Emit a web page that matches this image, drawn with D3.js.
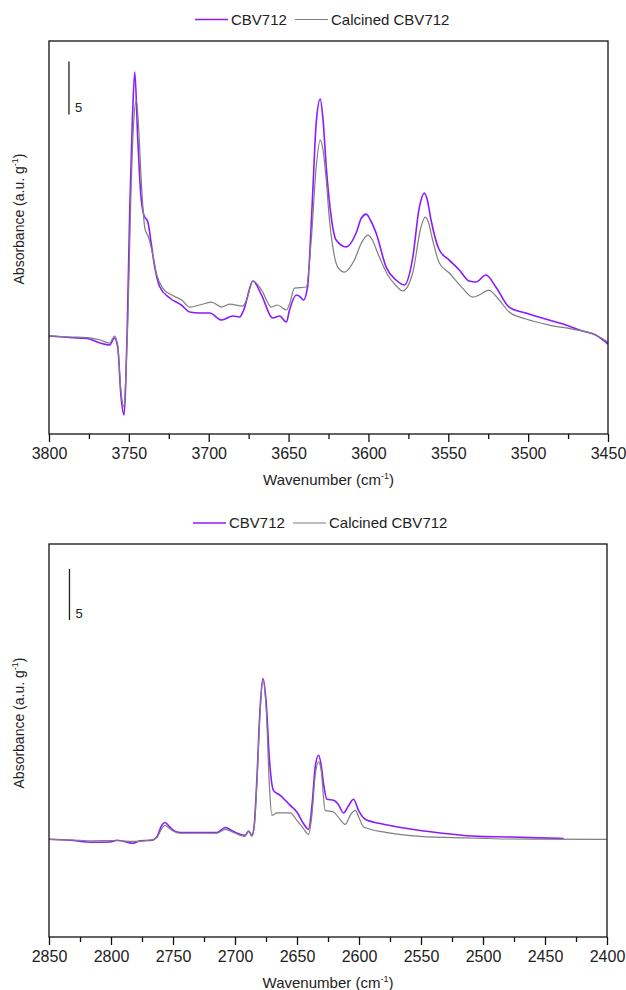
<!DOCTYPE html>
<html>
<head>
<meta charset="utf-8">
<script src="https://cdn.jsdelivr.net/npm/d3@7"></script>
<style>
  body { margin: 0; background: #fff; }
  text { font-family: "Liberation Sans", Arial, sans-serif; fill: #222; }
</style>
</head>
<body>
<div id="chart"></div>
<script>
// series names and colours
const seriesNames = ["CBV712", "Calcined CBV712"];
const seriesColors = ["#8c1aff", "#7f7f7f"];

// tick values (wavenumber, cm-1)
const topTicks = [3800, 3750, 3700, 3650, 3600, 3550, 3500, 3450];
const topMinorTicks = [3775, 3725, 3675, 3625, 3575, 3525, 3475];
const bottomTicks = [2850, 2800, 2750, 2700, 2650, 2600, 2550, 2500, 2450, 2400];
const bottomMinorTicks = [2825, 2775, 2725, 2675, 2625, 2575, 2525, 2475, 2425];

// OH region: [wavenumber, absorbance]
const topCBV = [
  [3800, 0.09], [3787, -0.05], [3776, -0.14], [3768, -0.57], [3762, -0.75],
  [3759, -0.09], [3757, -0.94], [3755, -5.47], [3753, -7.36], [3752, -4.53],
  [3751, 0.94], [3749.4, 12.26], [3747.8, 20.47], [3746.3, 25.0], [3744.4, 18.58],
  [3742.5, 13.4], [3740.6, 11.5], [3738.1, 10.85], [3736.3, 9.15], [3733.8, 6.6],
  [3730.6, 4.72], [3724.4, 3.68], [3717.1, 3.02], [3711.9, 2.36], [3705.6, 2.26],
  [3699.4, 2.26], [3691.9, 1.6], [3685, 1.98], [3680.6, 1.89], [3678.1, 2.55],
  [3672.3, 5.28], [3666.9, 3.96], [3660, 1.79], [3655.6, 1.98], [3651.4, 1.42],
  [3649.4, 2.55], [3645.2, 3.96], [3642.5, 3.77], [3640.6, 3.49], [3638.1, 4.72],
  [3636.3, 9.15], [3634.8, 13.87], [3632.7, 20.19], [3630.2, 22.45], [3628.4, 20.47],
  [3626.4, 16.04], [3623.3, 11.32], [3620.2, 9.15], [3613.9, 8.49], [3607.7, 9.81],
  [3604.4, 11.23], [3601.4, 11.6], [3598.8, 11.04], [3595.2, 9.81], [3588.9, 6.6],
  [3582.7, 5.38], [3577.5, 4.91], [3572.5, 7.26], [3568.1, 12.26], [3565, 13.58],
  [3563.1, 12.92], [3560.8, 11.04], [3555.6, 8.21], [3549.4, 7.26], [3543.1, 6.32],
  [3536.9, 5.28], [3532.7, 5.19], [3526.4, 5.85], [3520.2, 4.72], [3511.9, 2.83],
  [3501.4, 2.26], [3486.9, 1.6], [3476.4, 1.13], [3466.1, 0.57], [3457.7, 0.19],
  [3450, -0.66]
];
const topCalcined = [
  [3800, 0.1], [3787, 0], [3776, -0.05], [3768, -0.28], [3762, -0.57],
  [3759, 0.09], [3757, -0.75], [3755, -5.0], [3753, -6.6], [3752, -4.06],
  [3750.6, 1.6], [3748.8, 12.92], [3746.9, 20.47], [3745.3, 22.36], [3743.8, 19.53],
  [3741.9, 13.87], [3740, 10.28], [3737.5, 9.34], [3735, 7.74], [3732.5, 5.85],
  [3728.8, 4.62], [3723.1, 3.96], [3716.9, 3.49], [3711.9, 2.83], [3705.6, 3.02],
  [3698.3, 3.3], [3691.9, 2.83], [3686.9, 3.11], [3678.8, 2.92], [3676.3, 3.49],
  [3672.3, 5.28], [3666.9, 4.43], [3660.8, 2.83], [3656.9, 3.02], [3651.4, 2.55],
  [3649.4, 3.11], [3646.3, 4.62], [3638.9, 4.72], [3635.8, 9.15], [3632.7, 16.04],
  [3630.2, 18.58], [3628.4, 17.64], [3626.4, 14.81], [3624.4, 11.04], [3622.3, 8.49],
  [3619.2, 6.6], [3615, 6.13], [3608.8, 7.26], [3604.4, 8.87], [3600.4, 9.62],
  [3597.5, 9.15], [3594.2, 7.92], [3587.9, 5.85], [3583.1, 4.91], [3578.6, 4.34],
  [3572.3, 6.04], [3567.1, 10.38], [3564.4, 11.32], [3562.5, 10.85], [3559.8, 9.15],
  [3555.6, 6.98], [3549.4, 6.04], [3541.1, 4.62], [3534.8, 3.77], [3530.6, 3.96],
  [3524.8, 4.43], [3518.1, 3.49], [3511.9, 2.36], [3501.4, 1.7], [3486.9, 1.13],
  [3472.3, 0.75], [3457.7, 0.19], [3450, -0.47]
];

// OD region: [wavenumber, absorbance]
const bottomCBV = [
  [2850, 0], [2833, -0.1], [2814.5, -0.29], [2800.8, -0.26], [2795.1, -0.1],
  [2782.2, -0.39], [2776.6, -0.15], [2767.1, -0.1], [2762.8, 0.29], [2759, 1.37],
  [2756.4, 1.64], [2753.1, 1.27], [2749.7, 0.88], [2744.3, 0.66], [2714.6, 0.66],
  [2707.9, 1.15], [2701.5, 0.78], [2695.8, 0.49], [2691.8, 0.39], [2689.1, 0.81],
  [2686.4, 0.39], [2684.5, 1.37], [2682.4, 5.78], [2679.7, 12.97], [2677.5, 15.75],
  [2674.8, 13.33], [2672.2, 7.75], [2669, 4.8], [2663.6, 4.31], [2655.5, 3.33],
  [2650.1, 2.68], [2644.8, 1.54], [2640.7, 0.98], [2638, 3.17], [2635.3, 7.09],
  [2632.6, 8.24], [2630.5, 7.25], [2628.6, 5.46], [2625.9, 3.92], [2620.5, 3.82],
  [2616.8, 3.43], [2612.5, 2.58], [2608.7, 3.24], [2604.4, 3.92], [2600.4, 2.84],
  [2595, 1.96], [2582.9, 1.54], [2561.3, 1.05], [2534.4, 0.62], [2504.8, 0.29],
  [2477.9, 0.23], [2434.9, 0.07]
];
const bottomCalcined = [
  [2850, 0], [2833, -0.05], [2814.5, -0.15], [2800.8, -0.12], [2782.2, -0.2],
  [2767.1, -0.05], [2762.8, 0.2], [2759, 1.08], [2756.4, 1.37], [2753.1, 1.08],
  [2749.7, 0.78], [2744.3, 0.59], [2714.6, 0.59], [2707.9, 0.98], [2701.5, 0.69],
  [2695.8, 0.39], [2691.8, 0.29], [2689.1, 0.78], [2686.4, 0.29], [2684.5, 1.27],
  [2682.4, 5.29], [2679.7, 12.65], [2677.5, 15.59], [2674.8, 12.65], [2672.2, 5.13],
  [2670.3, 2.35], [2666.2, 2.58], [2655.5, 2.58], [2650.1, 1.86], [2644.8, 1.05],
  [2640.7, 0.49], [2638, 2.35], [2635.3, 6.27], [2632.6, 7.58], [2630.5, 6.76],
  [2627.3, 2.84], [2620.5, 2.68], [2616.8, 2.19], [2611.1, 1.47], [2607.1, 2.35],
  [2603, 2.84], [2599.8, 2.06], [2596.3, 1.21], [2577.4, 0.66], [2550.6, 0.29],
  [2512.9, 0.13], [2480.6, 0.03], [2400.4, 0]
];

const svg = d3
  .select("#chart")
  .append("svg")
  .attr("width", 626)
  .attr("height", 990);

function drawPanel(p) {
  const x = d3.scaleLinear().domain(p.xDomain).range([p.left, p.right]);
  const y = d3.scaleLinear().domain(p.yDomain).range([p.bottom, p.top]);
  const g = svg.append("g");

  // legend
  const leg = g.append("g").attr("transform", `translate(${p.legendX}, ${p.legendY})`);
  [0, 1].forEach(function (i) {
    const ox = i * 100;
    leg.append("line")
      .attr("x1", ox).attr("x2", ox + 33)
      .attr("y1", 0).attr("y2", 0)
      .attr("stroke", seriesColors[i])
      .attr("stroke-width", i == 0 ? 1.6 : 1.2);
    leg.append("text")
      .attr("x", ox + 36)
      .attr("y", 5.4)
      .attr("font-size", "15px")
      .text(seriesNames[i]);
  });

  // curves (calcined drawn last, on top)
  const line = d3.line()
    .x(d => x(d[0]))
    .y(d => y(d[1]))
    .curve(d3.curveMonotoneX);
  p.series.forEach(function (s, i) {
    g.append("path")
      .datum(s)
      .attr("d", line)
      .attr("fill", "none")
      .attr("stroke", seriesColors[i])
      .attr("stroke-width", i == 0 ? 1.6 : 1.2);
  });

  // frame
  g.append("rect")
    .attr("x", p.left).attr("y", p.top)
    .attr("width", p.right - p.left)
    .attr("height", p.bottom - p.top)
    .attr("fill", "none")
    .attr("stroke", "#111")
    .attr("stroke-width", 1.3);

  // x axis, major + minor ticks
  const ax = g.append("g")
    .attr("transform", `translate(0, ${p.bottom})`)
    .call(d3.axisBottom(x).tickValues(p.ticks).tickSize(8).tickPadding(5.5).tickFormat(d3.format("d")));
  ax.select(".domain").remove();
  ax.selectAll("line").attr("stroke", "#111").attr("stroke-width", 1.3);
  ax.selectAll("text")
    .attr("font-size", "16px")
    .attr("font-family", '"Liberation Sans", Arial, sans-serif')
    .attr("fill", "#222");

  const axm = g.append("g")
    .attr("transform", `translate(0, ${p.bottom})`)
    .call(d3.axisBottom(x).tickValues(p.minorTicks).tickSize(5).tickFormat(""));
  axm.select(".domain").remove();
  axm.selectAll("line").attr("stroke", "#111").attr("stroke-width", 1.3);

  // axis titles
  const xt = g.append("text")
    .attr("x", (p.left + p.right) / 2)
    .attr("y", p.xTitleY)
    .attr("text-anchor", "middle")
    .attr("font-size", "15px");
  xt.append("tspan").text("Wavenumber (cm");
  xt.append("tspan").attr("font-size", "9px").attr("dy", "-6").text("-1");
  xt.append("tspan").attr("dy", "6").text(")");

  const yt = g.append("text")
    .attr("transform", `translate(24, ${p.yTitleY}) rotate(-90)`)
    .attr("text-anchor", "middle")
    .attr("font-size", "14px");
  yt.append("tspan").text("Absorbance (a.u. g");
  yt.append("tspan").attr("font-size", "9px").attr("dy", "-6").text("-1");
  yt.append("tspan").attr("dy", "6").text(")");

  // scale bar of 5 units
  g.append("line")
    .attr("x1", x(p.barX)).attr("x2", x(p.barX))
    .attr("y1", y(p.barFrom)).attr("y2", y(p.barFrom + 5))
    .attr("stroke", "#222")
    .attr("stroke-width", 1.3);
  g.append("text")
    .attr("x", x(p.barX) + 6)
    .attr("y", y(p.barFrom) - 2)
    .attr("font-size", "13px")
    .text("5");
}

drawPanel({
  left: 49, right: 608, top: 41, bottom: 434,
  xDomain: [3800, 3450], yDomain: [-9.15, 27.93],
  ticks: topTicks, minorTicks: topMinorTicks,
  series: [topCBV, topCalcined],
  legendX: 195, legendY: 19.5,
  xTitleY: 485, yTitleY: 219,
  barX: 3787.5, barFrom: 21
});

drawPanel({
  left: 49, right: 607, top: 544, bottom: 937,
  xDomain: [2850, 2400], yDomain: [-9.58, 28.95],
  ticks: bottomTicks, minorTicks: bottomMinorTicks,
  series: [bottomCBV, bottomCalcined],
  legendX: 193, legendY: 523,
  xTitleY: 988, yTitleY: 723,
  barX: 2833.5, barFrom: 21.5
});
</script>
</body>
</html>
